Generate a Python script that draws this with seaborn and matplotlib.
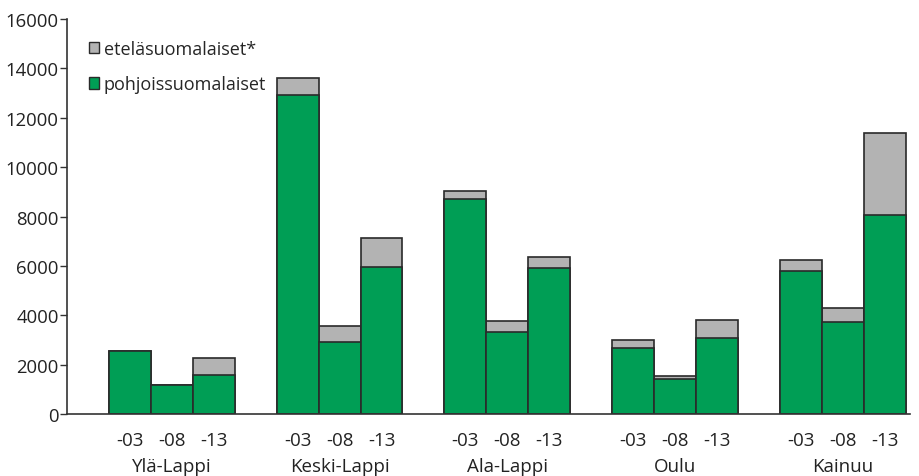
import matplotlib
matplotlib.use("Agg")
import matplotlib.pyplot as plt
import seaborn as sns
import pandas as pd
from matplotlib.patches import Patch

regions = ["Ylä-Lappi", "Keski-Lappi", "Ala-Lappi", "Oulu", "Kainuu"]
years = ["-03", "-08", "-13"]
pohjois = [2550, 1175, 1580, 12920, 2916, 5954, 8708, 3321, 5913, 2685, 1418, 3090, 5792, 3726, 8048]
etela = [0, 0, 690, 690, 648, 1174, 324, 446, 446, 312, 121, 705, 445, 567, 3345]

green = "#009e55"
grey = "#b3b3b3"
edge = "#2a2a2a"

pos = []
for g in range(len(regions)):
    for k in range(len(years)):
        pos.append(1.5 + 4 * g + k)
total = [p + e for p, e in zip(pohjois, etela)]
df = pd.DataFrame({"x": pos, "total": total, "pohjois": pohjois})

sns.set_style("white")
plt.rcParams["font.family"] = ["Open Sans", "DejaVu Sans"]

fig = plt.figure(figsize=(9.19, 4.77), dpi=100)
ax = fig.add_axes([0.073, 0.13, 0.917, 0.828])

sns.barplot(data=df, x="x", y="total", native_scale=True, width=1.0, color=grey,
            saturation=1, edgecolor=edge, linewidth=1.2, ax=ax)
sns.barplot(data=df, x="x", y="pohjois", native_scale=True, width=1.0, color=green,
            saturation=1, edgecolor=edge, linewidth=1.2, ax=ax)

ax.set_xlim(0, 20.1)
ax.set_ylim(0, 16000)
ax.set_yticks(range(0, 16001, 2000))
ax.set_yticklabels([str(v) for v in range(0, 16001, 2000)], fontsize=13.3, color="#222222")
ax.tick_params(axis="y", direction="out", length=5, width=1, color="#333333", pad=1, left=True)
ax.set_xticks(pos)
ax.set_xticklabels(years * len(regions), fontsize=13.5, color="#222222")
ax.tick_params(axis="x", length=0, pad=12)
ax.set_xlabel("")
ax.set_ylabel("")
for g, name in enumerate(regions):
    ax.text(2.5 + 4 * g, -0.132, name, transform=ax.get_xaxis_transform(),
            ha="center", va="center", fontsize=13.5, color="#222222")

for s in ["top", "right"]:
    ax.spines[s].set_visible(False)
for s in ["left", "bottom"]:
    ax.spines[s].set_color("#333333")
    ax.spines[s].set_linewidth(1.2)

handles = [Patch(facecolor=grey, edgecolor=edge, label="eteläsuomalaiset*"),
           Patch(facecolor=green, edgecolor=edge, label="pohjoissuomalaiset")]
ax.legend(handles=handles, loc="upper left", bbox_to_anchor=(0.017, 0.965), frameon=False,
          fontsize=13, handlelength=0.6, handleheight=0.6, handletextpad=0.25,
          labelspacing=0.95, borderaxespad=0)

fig.savefig("out.png", dpi=100)
